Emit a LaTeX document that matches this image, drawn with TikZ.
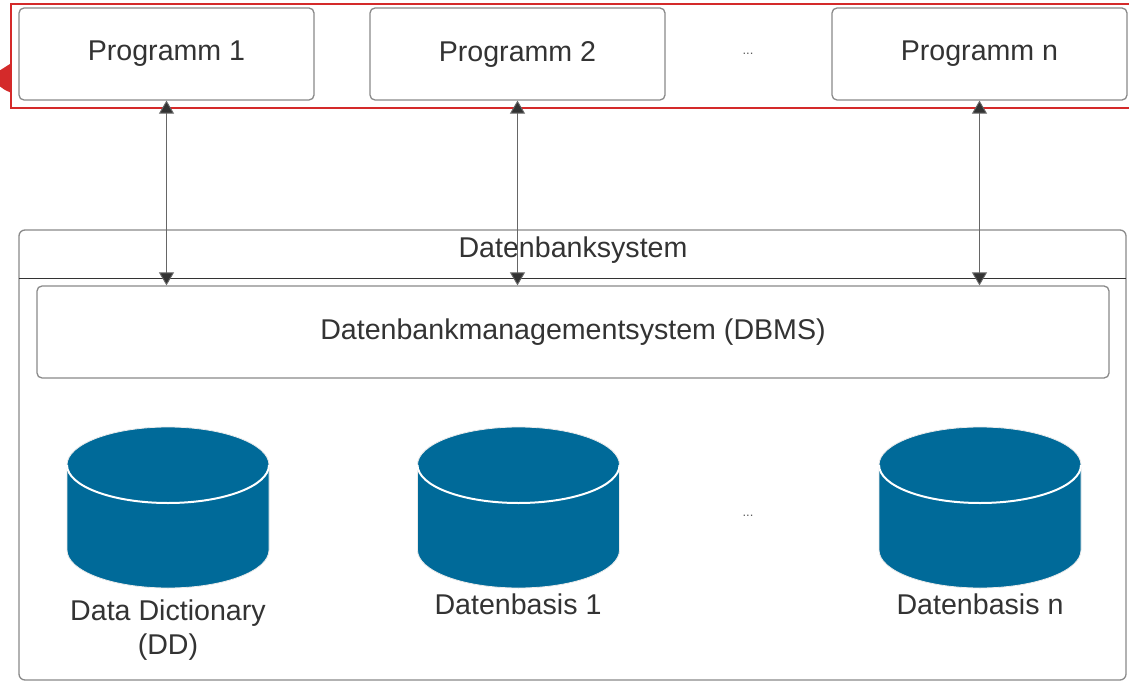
\documentclass[tikz,border=0pt]{standalone}
\usepackage{fontspec}
\setmainfont{Liberation Sans}
\usetikzlibrary{arrows.meta}
\definecolor{txt}{HTML}{333333}
\definecolor{frame}{HTML}{8A8A8A}
\definecolor{dbblue}{HTML}{006A99}
\definecolor{hilite}{HTML}{D42A2A}
\tikzset{
  lbl/.style={text=txt, font=\fontsize{28.6}{34}\selectfont, inner sep=0pt},
  tiny/.style={text=txt!80, font=\fontsize{13}{14}\selectfont, inner sep=0pt},
  progbox/.style={draw=frame, line width=1.3pt, rounded corners=5pt, fill=white,
    minimum width=295pt, minimum height=92pt, lbl},
  conn/.style={draw=txt!75, line width=0.9pt,
    {Triangle[width=15pt,length=13pt,fill=txt]}-{Triangle[width=15pt,length=13pt,fill=txt]}},
  pics/dbcyl/.style={code={
    \fill[dbblue, draw=black!8, line width=0.8pt]
      (-101,0) -- (-101,85) arc[start angle=180, end angle=0, x radius=101, y radius=38]
      -- (101,0) arc[start angle=0, end angle=-180, x radius=101, y radius=38] -- cycle;
    \draw[white, line width=2pt]
      (-101,0) arc[start angle=180, end angle=0, x radius=101, y radius=38];
  }}
}
\begin{document}
\begin{tikzpicture}[x=1pt, y=-1pt]
  \clip (0,0) rectangle (1129,682);
  \fill[white] (0,0) rectangle (1129,682);

  % programs row
  \node[progbox] (p1) at (166.5,54) {Programm 1};
  \node[progbox] (p2) at (517.5,54) {Programm 2};
  \node[progbox] (pn) at (979.5,54) {Programm n};
  \node[tiny] (pdots) at (748,54) {...};

  % selection frame around the programs
  \draw[hilite, line width=2.4pt] (11,4) rectangle (1140,108);
  \fill[hilite] (11.5,63) -- (11.5,93) -- (5,90) -- (-12,78) -- cycle;

  % database system container
  \node[draw=frame, line width=1.3pt, rounded corners=6pt, minimum width=1107pt,
        minimum height=450pt, inner sep=0pt] (dbs) at (572.5,455) {};
  \draw[txt, line width=1pt] (19,278) -- (1126,278);
  \node[lbl] (dbstitle) at (573,250) {Datenbanksystem};

  % DBMS
  \node[draw=frame, line width=1.3pt, rounded corners=5pt, minimum width=1072pt,
        minimum height=92pt, lbl] (dbms) at (573,332) {Datenbankmanagementsystem (DBMS)};

  % connections program <-> DBMS
  \draw[conn] (p1.south) -- (p1.south |- dbms.north);
  \draw[conn] (p2.south) -- (p2.south |- dbms.north);
  \draw[conn] (pn.south) -- (pn.south |- dbms.north);

  % data stores
  \pic at (168,465) {dbcyl};
  \pic at (518.5,465) {dbcyl};
  \pic at (980,465) {dbcyl};
  \node[lbl, align=center] (dd) at (168,630) {Data Dictionary\\(DD)};
  \node[lbl] (db1) at (518,604) {Datenbasis 1};
  \node[lbl] (dbn) at (980,604) {Datenbasis n};
  \node[tiny] (ddots) at (748,516) {...};
\end{tikzpicture}
\end{document}
